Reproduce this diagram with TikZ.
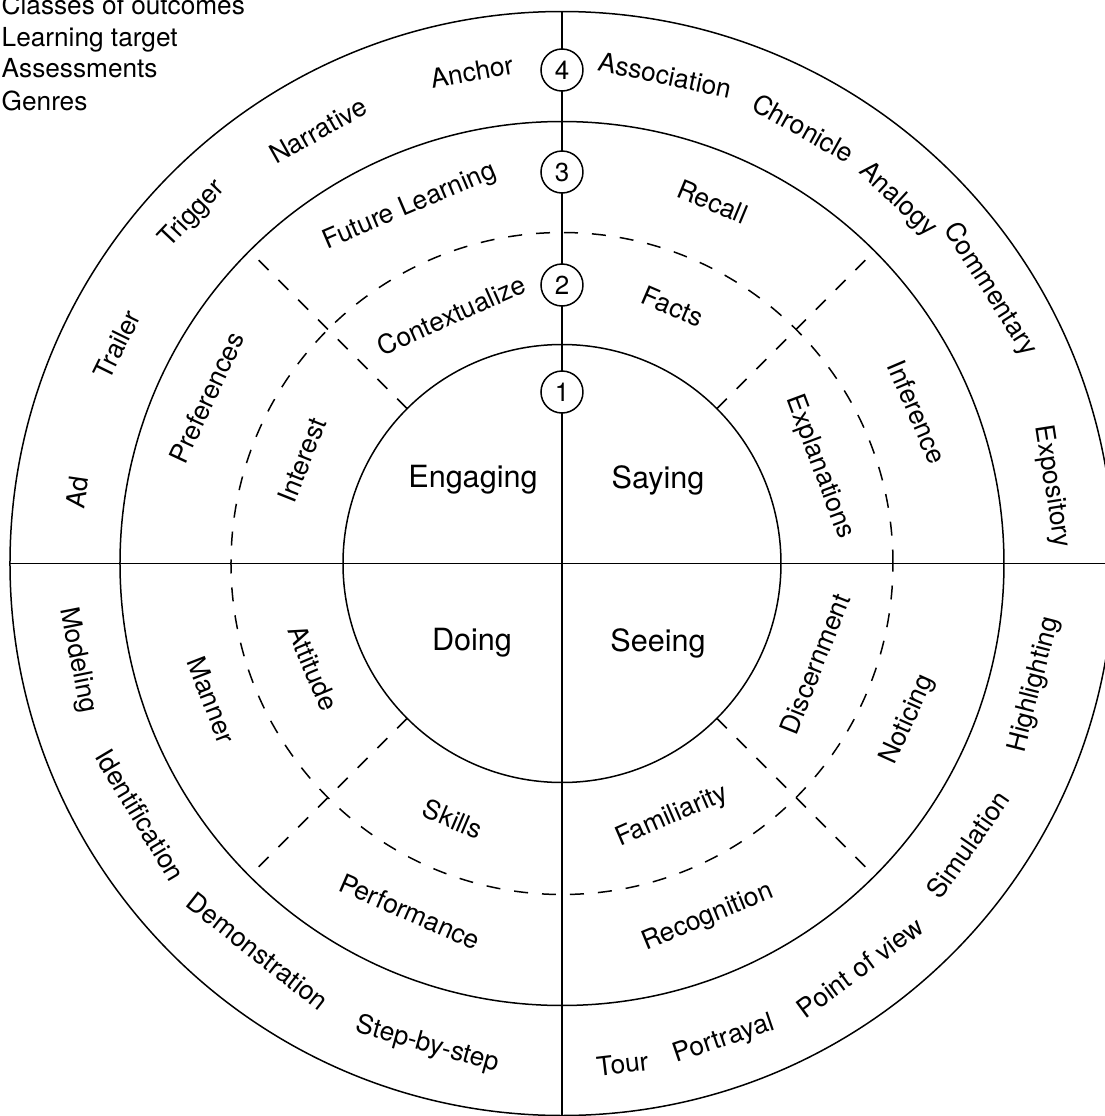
\documentclass[tikz,border=0pt]{standalone}
\usepackage{fontspec}
\setmainfont{TeX Gyre Heros}
\begin{document}
\begin{tikzpicture}[x=0.5pt,y=0.5pt, line width=0.75pt,
  lab/.style={font=\fontsize{13.2}{15}\selectfont, inner sep=0pt},
  big/.style={font=\fontsize{15.3}{18}\selectfont, inner sep=0pt},
  title/.style={font=\fontsize{13.1}{15}\selectfont, inner sep=0pt, anchor=base west},
  num/.style={draw, circle, fill=white, minimum size=21pt, inner sep=0pt, font=\fontsize{13}{15}\selectfont},
  dsh/.style={dash pattern=on 7pt off 7pt}]
\useasboundingbox (-562,-552.5) rectangle (543,563.5);
% rings
\draw (0,0) circle[radius=276pt];
\draw (0,0) circle[radius=221pt];
\draw[dsh] (0,0) circle[radius=165.5pt];
\draw (0,0) circle[radius=109.5pt];
% axes
\draw (-552,0) -- (552,0);
\draw (0,552) -- (0,-552);
% dashed diagonals
\foreach \a in {45,135,225,315} \draw[dsh] (\a:219) -- (\a:442);
% numbered circles
\node[num] (n4) at (0,493.5) {4};
\node[num] (n3) at (0,391.5) {3};
\node[num] (n2) at (0,278.5) {2};
\node[num] (n1) at (0,171.5) {1};
% legend
\node[title] (l1) at (-561,549.5) {Classes of outcomes};
\node[title] (l2) at (-561,517.5) {Learning target};
\node[title] (l3) at (-561,486.5) {Assessments};
\node[title] (l4) at (-561,453.5) {Genres};
% upper half labels
\foreach \a/\r/\t [count=\i] in {100.4/500/Anchor, 119.4/497/Narrative, 136.6/508/Trigger, 153.8/496/Trailer, 171.7/490/Ad, 78.1/499/Association, 61.0/498/Chronicle, 47.3/495/Analogy, 32.6/508/Commentary, 8.9/496/Expository,
 113.1/388/Future Learning, 67.4/392/Recall, 155.0/392/Preferences, 23.1/386/Inference,
 114.0/272/Contextualize, 66.7/280/Facts, 158.3/280/Interest, 20.5/275/Explanations}
  \node[lab, rotate=\a-90] (u\i) at (\a:\r) {\t};
% lower half labels
\foreach \a/\r/\t [count=\i] in {191.3/494/Modeling, 210.8/491/Identification, 231.9/493/Demonstration, 254.4/500/Step-by-step, 276.9/504/Tour, 288.8/503/Portrayal, 306.4/502/Point of view, 325.3/494/Simulation, 345.6/488/Highlighting,
 201.3/376/Manner, 335.7/380/Noticing, 246.4/380/Performance, 292.4/383/Recognition,
 202.8/270/Attitude, 338.3/272/Discernment, 246.9/278/Skills, 293.5/276/Familiarity}
  \node[lab, rotate=\a+90] (d\i) at (\a:\r) {\t};
% inner
\node[big] (eng) at (-89,83.5) {Engaging};
\node[big] (say) at (96,83.5) {Saying};
\node[big] (doi) at (-90,-79.5) {Doing};
\node[big] (see) at (96,-79.5) {Seeing};
\end{tikzpicture}
\end{document}
